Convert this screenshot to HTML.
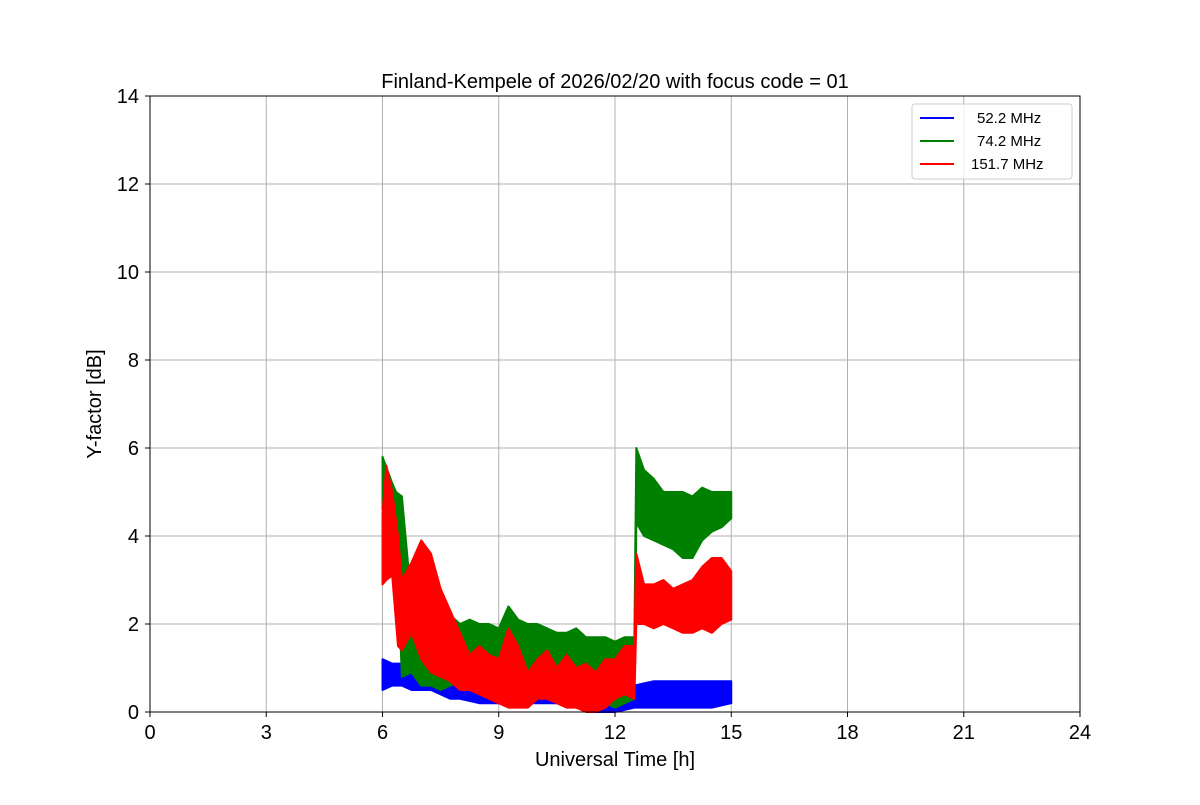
<!DOCTYPE html>
<html><head><meta charset="utf-8"><style>
body{margin:0;background:#fff;font-family:"Liberation Sans",sans-serif}
</style></head><body>
<svg width="1200" height="800" font-family="Liberation Sans, DejaVu Sans, sans-serif">
<g id="grid"></g>
<g id="series"></g>
<rect x="150" y="96" width="930" height="616" fill="none" stroke="#000" stroke-width="1"/>
<g id="ticks"></g>
<text x="615" y="88" text-anchor="middle" font-size="20">Finland-Kempele of 2026/02/20 with focus code = 01</text>
<text x="615" y="766" text-anchor="middle" font-size="20">Universal Time [h]</text>
<text transform="translate(101,404) rotate(-90)" text-anchor="middle" font-size="20">Y-factor [dB]</text>
<g>
<rect x="912" y="104" width="160" height="75" rx="3" fill="#fff" fill-opacity="0.8" stroke="#ccc"/>
<g><line x1="920" y1="118" x2="954" y2="118" stroke="blue" stroke-width="2"/><text x="977" y="123" font-size="15">52.2 MHz</text></g>
<g><line x1="920" y1="141" x2="954" y2="141" stroke="green" stroke-width="2"/><text x="977" y="146" font-size="15">74.2 MHz</text></g>
<g><line x1="920" y1="164" x2="954" y2="164" stroke="red" stroke-width="2"/><text x="971" y="169" font-size="15">151.7 MHz</text></g>
</g>
</svg>
<script>
const xTicks=[0,3,6,9,12,15,18,21,24];
const yTicks=[0,2,4,6,8,10,12,14];
const blueT=[6,6.25,6.5,6.75,7,7.25,7.5,7.75,8,8.5,9,9.5,10,10.5,11,11.5,12,12.5,13,13.5,14,14.5,15];
const blueLo=[0.5,0.6,0.6,0.5,0.5,0.5,0.4,0.3,0.3,0.2,0.2,0.2,0.2,0.2,0.1,0.0,0.0,0.1,0.1,0.1,0.1,0.1,0.2];
const blueHi=[1.2,1.1,1.1,1.0,1.1,1.0,0.9,0.8,0.9,0.7,0.6,0.9,0.7,0.6,0.6,0.5,0.5,0.6,0.7,0.7,0.7,0.7,0.7];
const greenT=[6,6.25,6.35,6.5,6.75,7,7.25,7.5,7.75,8,8.25,8.5,8.75,9,9.25,9.5,9.75,10,10.25,10.5,10.75,11,11.25,11.5,11.75,12,12.25,12.5,12.55,12.75,13,13.25,13.5,13.75,14,14.25,14.5,14.75,15];
const greenLo=[4.6,4.3,4.2,0.8,0.9,0.6,0.6,0.5,0.6,0.7,0.6,0.6,0.6,0.4,0.7,0.6,0.6,0.5,0.5,0.4,0.4,0.4,0.3,0.3,0.2,0.1,0.2,0.3,4.3,4.0,3.9,3.8,3.7,3.5,3.5,3.9,4.1,4.2,4.4];
const greenHi=[5.8,5.2,5.0,4.9,2.5,2.3,2.0,2.0,2.2,2.0,2.1,2.0,2.0,1.9,2.4,2.1,2.0,2.0,1.9,1.8,1.8,1.9,1.7,1.7,1.7,1.6,1.7,1.7,6.0,5.5,5.3,5.0,5.0,5.0,4.9,5.1,5.0,5.0,5.0];
const redT=[6,6.1,6.25,6.4,6.5,6.75,7,7.25,7.5,7.75,8,8.25,8.5,8.75,9,9.25,9.5,9.75,10,10.25,10.5,10.75,11,11.25,11.5,11.75,12,12.25,12.5,12.55,12.75,13,13.25,13.5,13.75,14,14.25,14.5,14.75,15];
const redLo=[2.9,3.0,3.1,1.5,1.4,1.8,1.2,0.9,0.8,0.7,0.5,0.5,0.4,0.3,0.2,0.1,0.1,0.1,0.3,0.3,0.2,0.1,0.1,0.0,0.0,0.1,0.3,0.4,0.3,2.0,2.0,1.9,2.0,1.9,1.8,1.8,1.9,1.8,2.0,2.1];
const redHi=[4.5,5.6,5.0,4.0,3.0,3.4,3.9,3.6,2.8,2.3,1.8,1.3,1.5,1.3,1.2,1.9,1.5,0.9,1.2,1.4,1.0,1.3,1.0,1.1,0.9,1.2,1.2,1.5,1.5,3.6,2.9,2.9,3.0,2.8,2.9,3.0,3.3,3.5,3.5,3.2];
const NS='http://www.w3.org/2000/svg';
const X=h=>150+h*930/24, Y=v=>712-v*616/14;
const grid=document.getElementById('grid'),ticks=document.getElementById('ticks'),ser=document.getElementById('series');
function mk(tag,attrs,parent){const e=document.createElementNS(NS,tag);for(const k in attrs)e.setAttribute(k,attrs[k]);parent.appendChild(e);return e;}
xTicks.forEach(t=>{
 const l=mk('line',{x1:X(t),x2:X(t),y1:96,y2:712,stroke:'#b0b0b0','stroke-width':1},grid);
 
 
 mk('line',{x1:X(t),x2:X(t),y1:712,y2:717,stroke:'#000'},ticks);
 const s=mk('text',{x:X(t),y:739,'text-anchor':'middle','font-size':20},ticks);s.textContent=t;
 
 
});
yTicks.forEach(t=>{
 const l=mk('line',{x1:150,x2:1080,y1:Y(t),y2:Y(t),stroke:'#b0b0b0','stroke-width':1},grid);
 
 
 mk('line',{x1:145,x2:150,y1:Y(t),y2:Y(t),stroke:'#000'},ticks);
 const s=mk('text',{x:139,y:Y(t)+7,'text-anchor':'end','font-size':20},ticks);s.textContent=t;
 
 
});
function band(T,lo,hi,col,name){
 let pts=T.map((t,i)=>X(t)+','+Y(hi[i]));
 for(let i=T.length-1;i>=0;i--)pts.push(X(T[i])+','+Y(lo[i]));
 const p=mk('polygon',{points:pts.join(' '),fill:col,stroke:col,'stroke-width':2,'stroke-linejoin':'round'},ser);
 
 
}
band(blueT,blueLo,blueHi,'blue','series-52-mhz');
band(greenT,greenLo,greenHi,'green','series-74-mhz');
band(redT,redLo,redHi,'red','series-151-mhz');
</script>
</body></html>
